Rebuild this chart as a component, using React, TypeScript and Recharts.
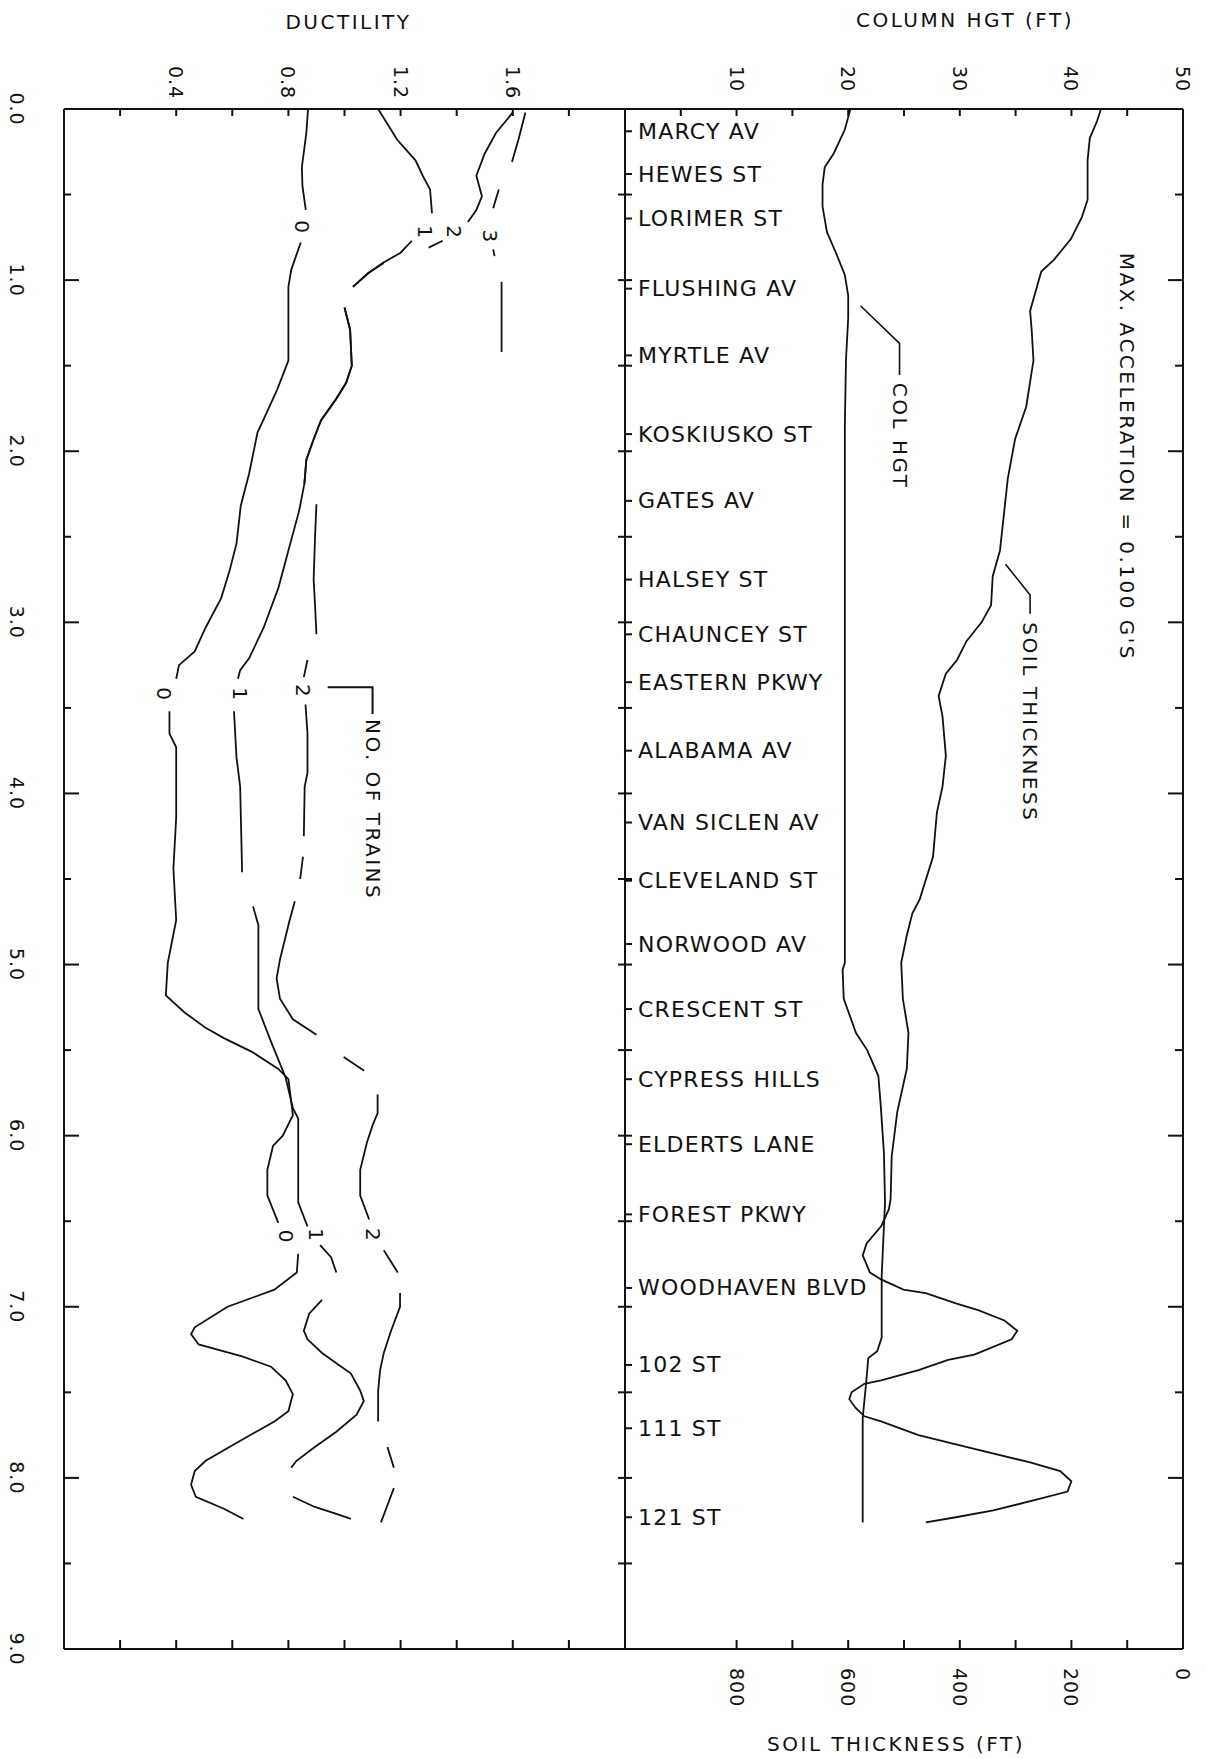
import React from 'react';
import { LineChart, Line, XAxis, YAxis, ReferenceDot } from 'recharts';

// ---------------- tick values & labels ----------------
const distanceTicks = [0, 0.5, 1, 1.5, 2, 2.5, 3, 3.5, 4, 4.5, 5, 5.5, 6, 6.5, 7, 7.5, 8, 8.5, 9];
const frameTicks = [0.5, 1, 1.5, 2, 2.5, 3, 3.5, 4, 4.5, 5, 5.5, 6, 6.5, 7, 7.5, 8, 8.5];
const ductilityTicks = [0.2, 0.4, 0.6, 0.8, 1.0, 1.2, 1.4, 1.6, 1.8];
const ductilityLabels = [0.4, 0.8, 1.2, 1.6];
const columnTicks = [5, 10, 15, 20, 25, 30, 35, 40, 45, 50];
const columnLabels = [10, 20, 30, 40, 50];
const soilTicks = [0, 100, 200, 300, 400, 500, 600, 700, 800];
const soilLabels = [0, 200, 400, 600, 800];

const stationNames = [
  'MARCY AV', 'HEWES ST', 'LORIMER ST', 'FLUSHING AV', 'MYRTLE AV', 'KOSKIUSKO ST',
  'GATES AV', 'HALSEY ST', 'CHAUNCEY ST', 'EASTERN PKWY', 'ALABAMA AV', 'VAN SICLEN AV',
  'CLEVELAND ST', 'NORWOOD AV', 'CRESCENT ST', 'CYPRESS HILLS', 'ELDERTS LANE',
  'FOREST PKWY', 'WOODHAVEN BLVD', '102 ST', '111 ST', '121 ST',
];
const stationMiles = [
  0.13, 0.38, 0.64, 1.05, 1.44, 1.9, 2.29, 2.75, 3.07, 3.35, 3.75, 4.17,
  4.51, 4.88, 5.26, 5.67, 6.05, 6.46, 6.89, 7.34, 7.71, 8.23,
];

// ---------------- ductility curves (miles, ductility); null = pen lifted ----------------
const trains0: [number, number | null][] = [
  [0.0, 0.87], [0.14, 0.864], [0.34, 0.848], [0.45, 0.85], [0.59, 0.862], [0.69, null],
  [0.78, 0.844], [0.94, 0.81], [1.04, 0.8], [1.47, 0.8], [1.64, 0.76], [1.82, 0.71],
  [1.89, 0.69], [2.13, 0.66], [2.32, 0.63], [2.54, 0.615], [2.7, 0.59], [2.86, 0.56],
  [3.03, 0.505], [3.17, 0.466], [3.25, 0.41], [3.33, 0.4], [3.42, null], [3.52, 0.376],
  [3.65, 0.376], [3.73, 0.4], [4.14, 0.4], [4.44, 0.39], [4.74, 0.4], [4.99, 0.37],
  [5.18, 0.363], [5.28, 0.43], [5.37, 0.505], [5.43, 0.57], [5.51, 0.67], [5.61, 0.764],
  [5.67, 0.8], [5.88, 0.816], [6.0, 0.78], [6.06, 0.745], [6.2, 0.725], [6.35, 0.725],
  [6.51, 0.764], [6.59, null], [6.69, 0.835], [6.8, 0.83], [6.9, 0.75], [7.0, 0.583],
  [7.12, 0.466], [7.16, 0.453], [7.22, 0.48], [7.29, 0.635], [7.35, 0.738], [7.43, 0.79],
  [7.51, 0.816], [7.61, 0.8], [7.67, 0.75], [7.8, 0.61], [7.9, 0.505], [7.96, 0.466],
  [8.04, 0.453], [8.11, 0.47], [8.18, 0.57], [8.24, 0.64],
];
const trains1: [number, number | null][] = [
  [0.0, 1.12], [0.18, 1.188], [0.3, 1.253], [0.39, 1.279], [0.47, 1.305], [0.61, 1.312],
  [0.7, null], [0.77, 1.24], [0.84, 1.2], [0.9, 1.136], [0.96, 1.084], [1.04, 1.03],
  [1.1, null], [1.16, 1.0], [1.29, 1.02], [1.5, 1.026], [1.6, 1.006], [1.7, 0.968],
  [1.82, 0.916], [1.93, 0.89], [2.05, 0.864], [2.19, 0.857], [2.35, 0.838], [2.58, 0.8],
  [2.8, 0.764], [3.03, 0.712], [3.21, 0.66], [3.28, 0.628], [3.33, 0.62], [3.42, null],
  [3.52, 0.606], [3.79, 0.615], [3.96, 0.628], [4.46, 0.635], [4.56, null], [4.66, 0.674],
  [4.77, 0.693], [5.26, 0.693], [5.45, 0.738], [5.66, 0.79], [5.84, 0.816], [5.9, 0.835],
  [6.39, 0.835], [6.53, 0.868], [6.58, null], [6.64, 0.913], [6.71, 0.952], [6.8, 0.971],
  [6.88, null], [6.96, 0.92], [7.04, 0.874], [7.14, 0.855], [7.19, 0.868], [7.27, 0.92],
  [7.33, 0.971], [7.39, 1.023], [7.49, 1.056], [7.55, 1.069], [7.63, 1.043], [7.73, 0.971],
  [7.82, 0.894], [7.9, 0.829], [7.94, 0.81], [8.02, null], [8.11, 0.816], [8.17, 0.894],
  [8.21, 0.971], [8.24, 1.023],
];
const trains2: [number, number | null][] = [
  [0.02, 1.6], [0.14, 1.54], [0.26, 1.5], [0.39, 1.47], [0.51, 1.49], [0.59, 1.47],
  [0.66, 1.44], [0.72, null], [0.77, 1.35], [0.81, 1.3], [0.85, null], [0.9, 1.14],
  [0.96, 1.084], [1.04, 1.03], [1.1, null], [1.16, 1.0], [1.29, 1.02], [1.5, 1.026],
  [1.6, 1.006], [1.7, 0.968], [1.82, 0.916], [1.93, 0.89], [2.05, 0.864], [2.19, 0.857],
  [2.25, null], [2.31, 0.9], [2.5, 0.895], [2.75, 0.89], [2.9, 0.895], [3.07, 0.9],
  [3.14, null], [3.22, 0.868], [3.32, 0.855], [3.4, null], [3.48, 0.861], [3.65, 0.868],
  [3.88, 0.868], [3.96, 0.858], [4.25, 0.855], [4.31, null], [4.37, 0.852], [4.5, 0.842],
  [4.56, null], [4.63, 0.823], [4.75, 0.803], [4.97, 0.77], [5.08, 0.758], [5.2, 0.77],
  [5.32, 0.816], [5.41, 0.9], [5.47, null], [5.54, 0.997], [5.62, 1.07], [5.69, null],
  [5.76, 1.118], [5.87, 1.118], [5.94, 1.1], [6.04, 1.08], [6.2, 1.056], [6.35, 1.056],
  [6.49, 1.088], [6.58, null], [6.67, 1.14], [6.8, 1.19], [6.86, null], [6.92, 1.198],
  [7.0, 1.198], [7.14, 1.166], [7.27, 1.14], [7.37, 1.127], [7.49, 1.12], [7.67, 1.12],
  [7.74, null], [7.82, 1.153], [7.94, 1.176], [8.0, null], [8.06, 1.176], [8.16, 1.153],
  [8.26, 1.13],
];
const trains3: [number, number | null][] = [
  [0.02, 1.645], [0.18, 1.62], [0.31, 1.597], [0.39, null], [0.47, 1.55], [0.58, 1.53],
  [0.7, null], [0.82, 1.53], [0.86, 1.535], [0.93, null], [1.01, 1.56], [1.19, 1.56],
  [1.42, 1.56],
];

// curve tags ("number of trains")
const tagText = ['0', '0', '0', '1', '1', '1', '2', '2', '2', '3'];
const tagMiles = [0.69, 3.42, 6.59, 0.72, 3.42, 6.58, 0.72, 3.4, 6.58, 0.745];
const tagDuct = [0.85, 0.356, 0.79, 1.286, 0.628, 0.9, 1.39, 0.852, 1.1, 1.52];

// ---------------- right panel curves (miles, value) ----------------
const columnHeight: [number, number][] = [
  [0.0, 20.2], [0.12, 19.7], [0.26, 18.7], [0.34, 17.9], [0.44, 17.7], [0.57, 17.7],
  [0.72, 18.1], [0.84, 18.9], [0.97, 19.7], [1.09, 20.0], [1.22, 20.0], [1.47, 19.8],
  [1.85, 19.7], [2.48, 19.7], [3.11, 19.7], [4.0, 19.7], [4.99, 19.7], [5.03, 19.5],
  [5.2, 19.6], [5.4, 20.7], [5.5, 21.7], [5.65, 22.7], [5.81, 22.9], [6.1, 23.2],
  [6.39, 23.3], [6.82, 23.0], [7.18, 23.0], [7.26, 22.6], [7.3, 21.8], [7.45, 21.6],
  [7.65, 21.3], [8.26, 21.3],
];
const soilThickness: [number, number][] = [
  [0.0, 147], [0.07, 154], [0.17, 167], [0.3, 171], [0.53, 171], [0.63, 181], [0.76, 201],
  [0.84, 221], [0.88, 231], [0.95, 254], [1.03, 261], [1.18, 274], [1.3, 271], [1.47, 268],
  [1.74, 281], [1.93, 301], [2.16, 314], [2.37, 321], [2.58, 328], [2.73, 341], [2.9, 344],
  [3.0, 361], [3.11, 388], [3.22, 405], [3.3, 425], [3.43, 438], [3.55, 431], [3.78, 425],
  [3.96, 431], [4.11, 441], [4.37, 448], [4.62, 472], [4.7, 485], [4.83, 495], [4.99, 505],
  [5.2, 502], [5.4, 492], [5.61, 495], [5.86, 512], [6.12, 522], [6.37, 524], [6.43, 527],
  [6.53, 541], [6.63, 567], [6.7, 574], [6.8, 561], [6.84, 541], [6.9, 501], [6.92, 461],
  [6.98, 407], [7.02, 367], [7.08, 320], [7.14, 297], [7.19, 307], [7.28, 374], [7.31, 421],
  [7.37, 474], [7.43, 541], [7.45, 571], [7.5, 594], [7.54, 598], [7.59, 587], [7.64, 571],
  [7.67, 541], [7.75, 474], [7.83, 374], [7.91, 274], [7.96, 220], [8.02, 200], [8.08, 207],
  [8.12, 254], [8.19, 340], [8.23, 407], [8.26, 461],
];

// leader lines of the annotations (miles, value)
const colLeader: [number, number][] = [[1.15, 21.1], [1.37, 24.6], [1.555, 24.6]];
const soilLeader: [number, number][] = [[2.66, 34.1], [2.84, 36.3], [2.95, 36.3]];
const trainsLeader: [number, number][] = [[3.38, 0.94], [3.38, 1.1], [3.535, 1.1]];

// ---------------- layout ----------------
const W = 1207;
const H = 1759;
const PT = 109; // plot top
const PB = 1649; // plot bottom
const PL = 64; // left frame
const PM = 625; // divider
const PR = 1183; // right frame
const AX = 40;
const YW = 40;
const YW2 = 10;
const TOP_LABEL_Y = 66;
const BOTTOM_LABEL_Y = 1668;
const FONT = '"DejaVu Sans", "Liberation Sans", sans-serif';
const INK = '#111';

const near = (a: number, b: number) => Math.abs(a - b) < 1e-6;
// split a pen-plotter polyline into its drawn pieces (null = pen up)
const pieces = (a: [number, number | null][]) => {
  const out: { d: number; v: number }[][] = [];
  let cur: { d: number; v: number }[] = [];
  a.forEach(([d, v]) => {
    if (v === null) {
      if (cur.length) out.push(cur);
      cur = [];
    } else cur.push({ d, v });
  });
  if (cur.length) out.push(cur);
  return out;
};

function VText({ x, y, children, anchor = 'start', size = 19, spacing = 1 }: any) {
  return (
    <text
      x={x}
      y={y}
      transform={`rotate(90 ${x} ${y})`}
      textAnchor={anchor}
      dominantBaseline="central"
      fontFamily={FONT}
      fontSize={size}
      letterSpacing={spacing}
      fill={INK}
    >
      {children}
    </text>
  );
}

const tagLabel = (text: string) => (p: any) => {
  const vb = p.viewBox || {};
  const cx = (vb.x ?? 0) + (vb.width ?? 0) / 2;
  const cy = (vb.y ?? 0) + (vb.height ?? 0) / 2;
  return <VText x={cx} y={cy} anchor="middle" size={20}>{text}</VText>;
};
const noteLabel = (text: string) => (p: any) => {
  const vb = p.viewBox || {};
  const cx = (vb.x ?? 0) + (vb.width ?? 0) / 2;
  const cy = (vb.y ?? 0) + (vb.height ?? 0) / 2;
  return <VText x={cx} y={cy} anchor="start" size={20} spacing={2.5}>{text}</VText>;
};
const axisTitle = (text: string, dx: number, y: number) => (p: any) => {
  const vb = p.viewBox || {};
  const cx = (vb.x ?? 0) + (vb.width ?? 0) / 2 + dx;
  return (
    <text x={cx} y={y} textAnchor="middle" dominantBaseline="central" fontFamily={FONT} fontSize={20} letterSpacing={2.5} fill={INK}>
      {text}
    </text>
  );
};

// ---------------- custom ticks ----------------
function DistanceTick(p: any) {
  const v = p.payload.value;
  const y = p.y;
  const whole = near(v, Math.round(v));
  return (
    <g>
      <line x1={PL} x2={PL + (whole ? 15 : 7)} y1={y} y2={y} stroke={INK} strokeWidth={2} />
      {whole && <VText x={17} y={y} anchor="middle">{v.toFixed(1)}</VText>}
    </g>
  );
}
function DividerTick(p: any) {
  const v = p.payload.value;
  const y = p.y;
  const i = stationMiles.findIndex((s) => near(s, v));
  if (i >= 0) {
    return (
      <g>
        <line x1={PM} x2={PM + 7} y1={y} y2={y} stroke={INK} strokeWidth={2} />
        <text x={PM + 13} y={y} dominantBaseline="central" fontFamily={FONT} fontSize={22} letterSpacing={1.2} fill={INK}>
          {stationNames[i]}
        </text>
      </g>
    );
  }
  return <line x1={PM - 7} x2={PM + 7} y1={y} y2={y} stroke={INK} strokeWidth={2} />;
}
function RightFrameTick(p: any) {
  const v = p.payload.value;
  const whole = near(v, Math.round(v));
  return <line x1={PR} x2={PR - (whole ? 15 : 8)} y1={p.y} y2={p.y} stroke={INK} strokeWidth={2} />;
}
function DuctTopTick(p: any) {
  const v = p.payload.value;
  const x = p.x;
  const lab = ductilityLabels.some((l) => near(l, v));
  return (
    <g>
      <line x1={x} x2={x} y1={PT} y2={PT + 7} stroke={INK} strokeWidth={2} />
      {lab && <VText x={x} y={TOP_LABEL_Y}>{v.toFixed(1)}</VText>}
    </g>
  );
}
function DuctBottomTick(p: any) {
  return <line x1={p.x} x2={p.x} y1={PB} y2={PB - 9} stroke={INK} strokeWidth={2} />;
}
function ColTopTick(p: any) {
  const v = p.payload.value;
  const x = p.x;
  const lab = columnLabels.some((l) => near(l, v));
  return (
    <g>
      {v < 50 && <line x1={x} x2={x} y1={PT} y2={PT + 7} stroke={INK} strokeWidth={2} />}
      {lab && <VText x={x} y={TOP_LABEL_Y}>{String(v)}</VText>}
    </g>
  );
}
function SoilBottomTick(p: any) {
  const v = p.payload.value;
  const x = p.x;
  const lab = soilLabels.some((l) => near(l, v));
  return (
    <g>
      {v > 0 && <line x1={x} x2={x} y1={PB} y2={PB - 9} stroke={INK} strokeWidth={2} />}
      {lab && <VText x={x} y={BOTTOM_LABEL_Y}>{String(v)}</VText>}
    </g>
  );
}

const frame = { stroke: INK, strokeWidth: 2 };
const curve = { stroke: INK, strokeWidth: 1.8, dot: false as const, activeDot: false as const, isAnimationActive: false, type: 'linear' as const };

const dividerTickValues = [...frameTicks, ...stationMiles].sort((a, b) => a - b);

function LeftPanel() {
  const series = [trains0, trains1, trains2, trains3];
  return (
    <LineChart
      width={W}
      height={H}
      layout="vertical"
      margin={{ top: PT - AX, bottom: H - PB - AX, left: PL - YW, right: W - PM }}
    >
      <XAxis
        xAxisId="top"
        orientation="top"
        type="number"
        domain={[0, 2]}
        allowDataOverflow
        ticks={ductilityTicks}
        interval={0}
        height={AX}
        axisLine={frame}
        tickLine={false}
        tick={(p: any) => <DuctTopTick {...p} />}
        label={axisTitle('DUCTILITY', 4, 22)}
      />
      <XAxis
        xAxisId="bot"
        orientation="bottom"
        type="number"
        domain={[0, 2]}
        allowDataOverflow
        ticks={ductilityTicks}
        interval={0}
        height={AX}
        axisLine={frame}
        tickLine={false}
        tick={(p: any) => <DuctBottomTick {...p} />}
      />
      <YAxis
        yAxisId="d"
        type="number"
        dataKey="d"
        domain={[0, 9]}
        allowDataOverflow
        ticks={distanceTicks}
        interval={0}
        width={YW}
        axisLine={frame}
        tickLine={false}
        tick={(p: any) => <DistanceTick {...p} />}
      />
      {series.map((s, si) =>
        pieces(s).map((seg, k) => (
          <Line key={`t${si}-${k}`} xAxisId="top" yAxisId="d" data={seg} dataKey="v" {...curve} />
        )),
      )}
      <Line xAxisId="top" yAxisId="d" data={pieces(trainsLeader)[0]} dataKey="v" {...curve} strokeWidth={2} />
      {tagText.map((t, i) => (
        <ReferenceDot key={`tag${i}`} xAxisId="top" yAxisId="d" x={tagDuct[i]} y={tagMiles[i]} r={0} fill="none" stroke="none" label={tagLabel(t)} />
      ))}
      <ReferenceDot xAxisId="top" yAxisId="d" x={1.1} y={3.565} r={0} fill="none" stroke="none" label={noteLabel('NO. OF TRAINS')} />
    </LineChart>
  );
}

function RightPanel() {
  return (
    <LineChart
      width={W}
      height={H}
      layout="vertical"
      margin={{ top: PT - AX, bottom: H - PB - AX, left: PM - YW2, right: W - PR - YW2 }}
    >
      <XAxis
        xAxisId="col"
        orientation="top"
        type="number"
        domain={[0, 50]}
        allowDataOverflow
        ticks={columnTicks}
        interval={0}
        height={AX}
        axisLine={frame}
        tickLine={false}
        tick={(p: any) => <ColTopTick {...p} />}
        label={axisTitle('COLUMN HGT (FT)', 61, 20)}
      />
      <XAxis
        xAxisId="soil"
        orientation="bottom"
        type="number"
        domain={[0, 1000]}
        reversed
        allowDataOverflow
        ticks={soilTicks}
        interval={0}
        height={AX}
        axisLine={frame}
        tickLine={false}
        tick={(p: any) => <SoilBottomTick {...p} />}
        label={axisTitle('SOIL THICKNESS (FT)', -8, 1744)}
      />
      <YAxis
        yAxisId="d"
        type="number"
        dataKey="d"
        domain={[0, 9]}
        allowDataOverflow
        ticks={dividerTickValues}
        interval={0}
        width={YW2}
        axisLine={frame}
        tickLine={false}
        tick={(p: any) => <DividerTick {...p} />}
      />
      <YAxis
        yAxisId="r"
        orientation="right"
        type="number"
        dataKey="d"
        domain={[0, 9]}
        allowDataOverflow
        ticks={frameTicks}
        interval={0}
        width={YW2}
        axisLine={frame}
        tickLine={false}
        tick={(p: any) => <RightFrameTick {...p} />}
      />
      <Line xAxisId="col" yAxisId="d" data={pieces(columnHeight)[0]} dataKey="v" {...curve} />
      <Line xAxisId="soil" yAxisId="d" data={pieces(soilThickness)[0]} dataKey="v" {...curve} />
      <Line xAxisId="col" yAxisId="d" data={pieces(colLeader)[0]} dataKey="v" {...curve} strokeWidth={1.6} />
      <Line xAxisId="col" yAxisId="d" data={pieces(soilLeader)[0]} dataKey="v" {...curve} strokeWidth={1.6} />
      <ReferenceDot xAxisId="col" yAxisId="d" x={45} y={0.84} r={0} fill="none" stroke="none" label={noteLabel("MAX. ACCELERATION = 0.100 G'S")} />
      <ReferenceDot xAxisId="col" yAxisId="d" x={24.6} y={1.6} r={0} fill="none" stroke="none" label={noteLabel('COL HGT')} />
      <ReferenceDot xAxisId="col" yAxisId="d" x={36.3} y={3.0} r={0} fill="none" stroke="none" label={noteLabel('SOIL THICKNESS')} />
    </LineChart>
  );
}

export default function App() {
  return (
    <div style={{ position: 'absolute', left: 0, top: 0, width: W, height: H, background: '#fff', overflow: 'hidden' }}>
      <div style={{ position: 'absolute', left: 0, top: 0 }}>
        <LeftPanel />
      </div>
      <div style={{ position: 'absolute', left: 0, top: 0 }}>
        <RightPanel />
      </div>
    </div>
  );
}
